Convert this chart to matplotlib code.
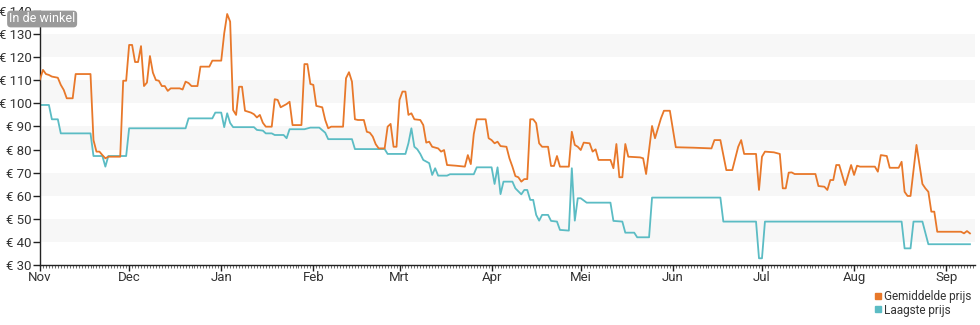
import matplotlib
matplotlib.use("Agg")
import matplotlib.pyplot as plt
from matplotlib.lines import Line2D
from matplotlib.ticker import FixedLocator, MultipleLocator

plt.rcParams["font.family"] = ["Roboto", "DejaVu Sans"]

# dagen sinds 1 november, prijs in euro
gem_dag = [0, 1, 2, 3, 4, 6, 7, 8, 9, 11, 12, 17, 18, 19, 20, 21, 22, 23, 27, 28,
           29, 30, 31, 32, 33, 34, 35, 36, 37, 38, 39, 40, 41, 42, 43, 44, 47, 48, 49, 50,
           51, 53, 54, 57, 58, 61, 62, 63, 64, 65, 66, 67, 68, 69, 70, 71, 72, 73, 74, 75,
           76, 78, 79, 80, 81, 82, 83, 84, 85, 88, 89, 90, 91, 92, 93, 95, 96, 97, 98, 102,
           103, 104, 105, 106, 107, 109, 110, 111, 112, 113, 114, 116, 117, 118, 119, 120, 121, 122, 123, 124,
           125, 126, 128, 129, 130, 131, 132, 134, 135, 136, 137, 140, 143, 144, 145, 146, 147, 150, 151, 152,
           153, 154, 155, 157, 158, 159, 160, 161, 162, 163, 164, 165, 166, 167, 168, 169, 171, 172, 173, 174,
           175, 178, 179, 180, 181, 182, 183, 185, 186, 187, 188, 192, 193, 194, 195, 196, 197, 198, 202, 203,
           204, 206, 207, 209, 210, 212, 214, 220, 226, 227, 229, 231, 233, 235, 236, 237, 241, 242, 243, 244,
           247, 249, 250, 251, 252, 253, 254, 261, 262, 264, 265, 266, 267, 268, 269, 271, 273, 274, 275, 276,
           281, 282, 283, 285, 286, 289, 290, 291, 292, 293, 295, 297, 298, 299, 300, 301, 302, 310, 311, 312,
           313]
gem_prijs = [110.4, 114.5, 112.7, 112.3, 111.6, 111.1, 108.0, 105.8, 102.2, 102.2, 112.7, 112.7, 84.1, 79.1, 79.1, 77.6, 76.2, 76.9, 76.9, 109.8,
             109.8, 125.3, 125.3, 117.9, 117.9, 124.8, 107.5, 109.0, 120.5, 113.3, 110.1, 109.8, 107.5, 107.5, 105.4, 106.5, 106.5, 106.0, 109.4, 108.8,
             107.5, 107.5, 115.9, 115.9, 118.5, 118.5, 130.3, 138.7, 135.4, 97.1, 95.0, 107.2, 107.2, 96.8, 96.4, 96.0, 95.3, 93.9, 95.0, 91.6,
             89.9, 89.9, 101.8, 101.5, 98.3, 99.0, 99.7, 100.7, 90.6, 90.6, 117.0, 117.0, 108.4, 108.0, 98.9, 98.3, 92.8, 89.2, 89.9, 89.9,
             110.9, 113.5, 109.4, 93.1, 92.8, 92.8, 87.7, 87.3, 85.6, 82.3, 80.5, 80.5, 89.9, 91.1, 81.2, 81.2, 101.5, 105.1, 105.1, 95.0,
             95.7, 93.1, 92.8, 90.6, 83.0, 83.4, 81.2, 80.5, 79.1, 79.8, 73.3, 73.0, 72.6, 77.6, 73.7, 86.7, 93.1, 93.1, 84.9, 84.1,
             82.7, 83.4, 81.5, 81.2, 76.2, 72.6, 68.5, 68.0, 66.1, 67.2, 67.2, 93.1, 93.1, 91.4, 82.7, 81.2, 81.2, 72.9, 72.9, 77.2,
             72.6, 72.6, 87.7, 82.0, 81.2, 79.8, 83.0, 82.7, 79.1, 80.1, 75.5, 75.5, 71.9, 82.4, 68.0, 68.0, 82.4, 76.9, 76.6, 76.2,
             69.4, 90.2, 84.9, 93.5, 96.8, 96.8, 81.0, 80.8, 80.5, 84.1, 84.1, 71.1, 71.1, 81.2, 84.1, 78.1, 78.1, 62.5, 76.9, 79.1,
             78.8, 78.1, 63.2, 63.2, 70.0, 70.1, 69.4, 69.4, 64.2, 63.9, 62.5, 66.8, 66.8, 73.3, 73.3, 64.6, 73.3, 69.0, 73.0, 72.6,
             72.6, 70.4, 77.6, 77.2, 72.1, 72.1, 74.7, 61.7, 59.9, 59.9, 82.0, 65.1, 63.2, 61.7, 53.1, 53.1, 44.4, 44.4, 43.7, 44.7,
             43.7]

laag_dag = [0, 3, 4, 6, 7, 17, 18, 21, 22, 23, 29, 30, 49, 50, 58, 59, 61, 62, 63, 64,
            65, 72, 73, 75, 76, 78, 79, 82, 83, 84, 89, 91, 94, 96, 97, 105, 106, 116, 117, 123,
            124, 125, 126, 127, 128, 129, 131, 132, 133, 134, 137, 138, 146, 147, 152, 153, 154, 155, 156, 159,
            160, 162, 163, 164, 165, 166, 167, 168, 169, 171, 172, 174, 175, 178, 179, 180, 181, 182, 184, 192,
            193, 196, 197, 200, 201, 205, 206, 229, 230, 241, 242, 243, 244, 290, 291, 293, 294, 297, 299, 313]
laag_prijs = [99.3, 99.3, 93.1, 93.1, 87.0, 87.0, 77.2, 77.2, 72.6, 77.2, 77.2, 89.2, 89.2, 93.5, 93.5, 96.0, 96.0, 89.7, 95.7, 91.5,
              89.7, 89.7, 88.5, 88.2, 87.0, 87.0, 86.3, 86.3, 84.9, 88.8, 88.8, 89.5, 89.5, 87.3, 84.5, 84.5, 80.2, 80.2, 78.1, 78.1,
              82.7, 89.2, 81.2, 80.1, 78.1, 75.5, 74.1, 69.0, 71.9, 68.7, 68.7, 69.3, 69.3, 72.3, 72.3, 65.1, 72.3, 60.7, 66.1, 66.1,
              63.2, 60.6, 62.5, 62.5, 58.2, 58.2, 51.7, 49.2, 51.7, 51.7, 49.1, 48.8, 45.2, 44.9, 71.9, 49.2, 58.9, 58.9, 57.0, 57.0,
              49.1, 48.8, 44.0, 44.0, 42.0, 42.0, 59.2, 59.2, 48.8, 48.8, 32.9, 32.9, 48.8, 48.8, 37.2, 37.2, 48.8, 48.8, 39.0, 39.0]

maand_dag = [0, 30, 61, 92, 121, 152, 182, 213, 243, 274, 305]
maand_label = ["Nov", "Dec", "Jan", "Feb", "Mrt", "Apr", "Mei", "Jun", "Jul", "Aug", "Sep"]
prijs_ticks = [30, 40, 50, 60, 70, 80, 90, 100, 110, 120, 130, 140]

ORANJE = "#e8782a"
TEAL = "#5bbcc4"
TEKST = "#333333"

fig = plt.figure(figsize=(9.8, 3.25), dpi=100)
ax = fig.add_axes([40 / 980, 60 / 325, 935 / 980, 254 / 325])

# afwisselende lichtgrijze banden
for lo, hi in zip(prijs_ticks[1::2], prijs_ticks[2::2]):
    ax.axhspan(lo, hi, color="#f7f7f7", lw=0, zorder=0)

ax.plot(gem_dag, gem_prijs, color=ORANJE, lw=1.3, zorder=3)
ax.plot(laag_dag, laag_prijs, color=TEAL, lw=1.3, zorder=2)

ax.set_xlim(0, 314.7)
ax.set_ylim(30, 140)

ax.yaxis.set_major_locator(FixedLocator(prijs_ticks))
ax.set_yticklabels([f"€ {v}" for v in prijs_ticks])
ax.xaxis.set_major_locator(FixedLocator(maand_dag))
ax.set_xticklabels(maand_label)
ax.xaxis.set_minor_locator(MultipleLocator(1))

for side in ("top", "right"):
    ax.spines[side].set_visible(False)
for side in ("left", "bottom"):
    ax.spines[side].set_color("#222222")
    ax.spines[side].set_linewidth(1.0)

ax.tick_params(axis="y", length=5, width=1, color="#222222", labelsize=9.5,
               labelcolor=TEKST, pad=1)
ax.tick_params(axis="x", which="major", length=4, width=1, color="#222222",
               labelsize=9.5, labelcolor=TEKST, pad=0)
ax.tick_params(axis="x", which="minor", length=2, width=0.6, color="#555555")

fig.text(9 / 980, 1 - 19 / 325, "In de winkel", color="white", fontsize=9,
         va="center", ha="left",
         bbox=dict(boxstyle="round,pad=0.15,rounding_size=0.3", fc="#9a9a9a", ec="none"))

handles = [
    Line2D([], [], marker="s", ls="none", color=ORANJE, markersize=4.5),
    Line2D([], [], marker="s", ls="none", color=TEAL, markersize=4.5),
]
fig.legend(handles, ["Gemiddelde prijs", "Laagste prijs"], loc="upper left",
           bbox_to_anchor=(875 / 980, 1 - 290 / 325), frameon=False,
           handlelength=0.5, handletextpad=0.25, labelspacing=0.05, borderpad=0,
           borderaxespad=0, fontsize=8.5, labelcolor=TEKST)

fig.savefig("out.png", dpi=100)
